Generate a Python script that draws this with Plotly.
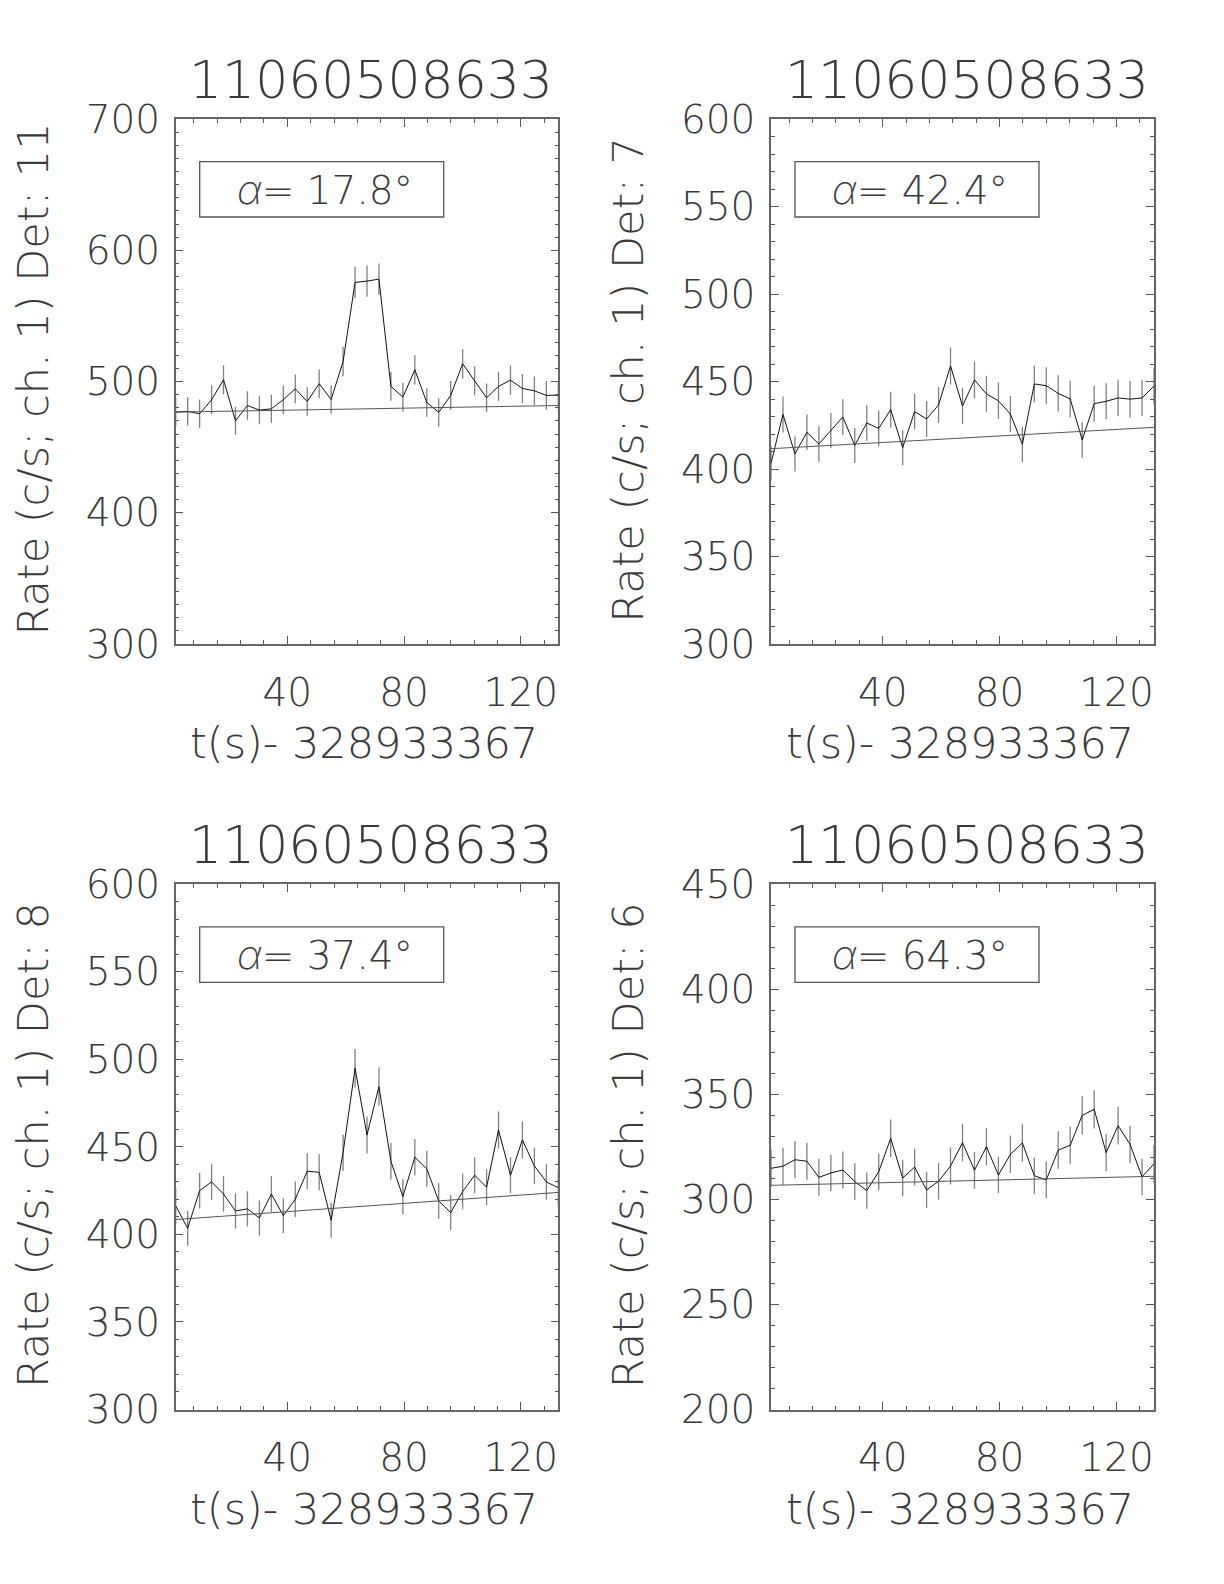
import plotly.graph_objects as go

# ---------------- data ----------------
t = [1.77, 5.87, 9.96, 14.06, 18.15, 22.25, 26.35, 30.44, 34.54, 38.63, 42.73,
     46.83, 50.92, 55.02, 59.11, 63.21, 67.31, 71.40, 75.50, 79.59, 83.69, 87.79,
     91.88, 95.98, 100.07, 104.17, 108.27, 112.36, 116.46, 120.55, 124.65,
     128.75, 132.84]

rate_det11 = [476.7, 477.2, 475.4, 486.1, 501.3, 470.1, 481.7, 478.2, 479.2, 486.1,
              494.4, 484.8, 498.3, 486.3, 515.2, 575.5, 576.5, 578.0, 496.3, 488.1,
              508.9, 484.0, 476.5, 489.4, 513.5, 500.5, 487.6, 496.3, 501.0, 494.7,
              492.9, 489.4, 489.6]
err_det11 = [10.8, 10.8, 10.8, 10.9, 11.1, 10.7, 10.8, 10.8, 10.8, 10.9, 11.0, 10.9,
             11.0, 10.9, 11.2, 11.9, 11.9, 11.9, 11.0, 10.9, 11.1, 10.9, 10.8, 10.9,
             11.2, 11.1, 10.9, 11.0, 11.1, 11.0, 11.0, 10.9, 10.9]
bg_det11 = [476.7, 481.7]

rate_det7 = [403.3, 431.2, 408.6, 421.0, 414.3, 421.9, 429.7, 413.5, 426.3, 423.2,
             433.9, 412.2, 432.8, 428.6, 436.6, 458.9, 436.0, 450.9, 442.9, 439.0,
             431.4, 414.1, 448.6, 447.6, 443.2, 440.0, 416.6, 437.3, 438.7, 440.6,
             439.9, 440.6, 447.4]
err_det7 = [9.9, 10.3, 10.0, 10.1, 10.1, 10.1, 10.2, 10.0, 10.2, 10.2, 10.3, 10.0,
            10.3, 10.2, 10.3, 10.6, 10.3, 10.5, 10.4, 10.4, 10.3, 10.1, 10.5, 10.5,
            10.4, 10.4, 10.1, 10.3, 10.3, 10.4, 10.4, 10.4, 10.5]
bg_det7 = [411.6, 423.8]

rate_det8 = [416.4, 403.5, 425.0, 430.0, 423.1, 413.4, 414.6, 409.4, 423.1, 410.7,
             420.1, 436.1, 435.5, 408.1, 446.7, 494.9, 456.8, 484.4, 441.8, 421.6,
             444.1, 437.4, 419.1, 412.5, 424.5, 433.8, 427.0, 459.7, 433.8, 454.0,
             439.1, 430.0, 426.7]
err_det8 = [10.1, 9.9, 10.2, 10.2, 10.2, 10.0, 10.1, 10.0, 10.2, 10.0, 10.1, 10.3,
            10.3, 10.0, 10.4, 11.0, 10.6, 10.9, 10.4, 10.1, 10.4, 10.3, 10.1, 10.0,
            10.2, 10.3, 10.2, 10.6, 10.3, 10.5, 10.4, 10.2, 10.2]
bg_det8 = [408.5, 424.0]

rate_det6 = [314.8, 315.8, 318.9, 318.2, 310.5, 312.6, 314.0, 308.5, 304.2, 313.2,
             329.1, 310.2, 315.4, 304.5, 308.6, 315.9, 327.0, 313.9, 325.1, 311.6,
             321.5, 326.9, 311.3, 309.3, 323.5, 325.8, 340.0, 342.9, 322.3, 335.1,
             326.2, 310.7, 317.0]
err_det6 = [8.8, 8.8, 8.8, 8.8, 8.7, 8.7, 8.8, 8.7, 8.6, 8.7, 9.0, 8.7, 8.8, 8.6,
            8.7, 8.8, 8.9, 8.8, 8.9, 8.7, 8.9, 8.9, 8.7, 8.7, 8.9, 8.9, 9.1, 9.1,
            8.9, 9.0, 8.9, 8.7, 8.8]
bg_det6 = [306.7, 311.0]

titles = ["11060508633", "11060508633", "11060508633", "11060508633"]
detectors = ["11", "7", "8", "6"]
alphas = ["17.8", "42.4", "37.4", "64.3"]
y_ranges = [[300, 700], [300, 600], [300, 600], [200, 450]]
y_dticks = [100, 50, 50, 50]
x_title = "t(s)- 328933367"

rates = [rate_det11, rate_det7, rate_det8, rate_det6]
errs = [err_det11, err_det7, err_det8, err_det6]
bgs = [bg_det11, bg_det7, bg_det8, bg_det6]

# ---------------- layout geometry ----------------
# page pixel coordinates of the reference; the figure div sits 8px in (body margin)
OFF = 8
W, H = 1224 - 2 * OFF, 1584 - 2 * OFF
FONT = "DejaVu Sans"
WGT = 200
TXT = "#3a3a3a"
panels_px = [  # left, right, top, bottom (page px)
    (175.7, 558.3, 119.0, 644.0),
    (771.0, 1154.0, 119.0, 644.0),
    (175.7, 558.3, 884.3, 1409.5),
    (771.0, 1154.0, 884.3, 1409.5),
]


def px(xp):
    return (xp - OFF) / W


def py(yp):
    return 1 - (yp - OFF) / H


fig = go.Figure()
layout = dict(
    template="none",
    width=W, height=H, margin=dict(l=0, r=0, t=0, b=0, autoexpand=False),
    paper_bgcolor="white", plot_bgcolor="white", showlegend=False,
    font=dict(family=FONT, size=38, color=TXT, weight=WGT),
)
annotations = []
shapes = []

for k in range(4):
    l, r, tp, bt = panels_px[k]
    xa = "x" if k == 0 else f"x{k+1}"
    ya = "y" if k == 0 else f"y{k+1}"
    xkey = "xaxis" if k == 0 else f"xaxis{k+1}"
    ykey = "yaxis" if k == 0 else f"yaxis{k+1}"

    fig.add_trace(go.Scatter(
        x=t, y=rates[k], mode="lines", xaxis=xa, yaxis=ya,
        line=dict(color="#111111", width=1),
        error_y=dict(type="data", array=errs[k], visible=True,
                     color="#808080", thickness=1.3, width=0),
    ))
    fig.add_trace(go.Scatter(
        x=[t[0], t[-1]], y=bgs[k], mode="lines", xaxis=xa, yaxis=ya,
        line=dict(color="#555555", width=1),
    ))

    layout[xkey] = dict(
        domain=[px(l), px(r)], anchor=ya, range=[t[0], t[-1]],
        tickmode="array", tickvals=[40, 80, 120], ticktext=["40", "80", "120"],
        ticks="inside", ticklen=8, tickwidth=1, tickcolor="#555",
        minor=dict(tickmode="linear", tick0=0, dtick=8, ticks="inside",
                   ticklen=4, tickwidth=1, tickcolor="#555"),
        showline=True, linecolor="#666", linewidth=1.5, mirror="allticks",
        showgrid=False, zeroline=False, automargin=False,
        tickfont=dict(family=FONT, size=39, color=TXT, weight=WGT),
        ticklabelstandoff=13,
    )
    layout[ykey] = dict(
        domain=[py(bt), py(tp)], anchor=xa, range=y_ranges[k],
        tickmode="linear", tick0=0, dtick=y_dticks[k],
        ticks="inside", ticklen=8, tickwidth=1, tickcolor="#555",
        minor=dict(tickmode="linear", tick0=0, dtick=10, ticks="inside",
                   ticklen=4, tickwidth=1, tickcolor="#555"),
        showline=True, linecolor="#666", linewidth=1.5, mirror="allticks",
        showgrid=False, zeroline=False, automargin=False,
        tickfont=dict(family=FONT, size=39, color=TXT, weight=WGT),
        ticklabelstandoff=6,
    )

    cx = (l + r) / 2
    # panel title
    annotations.append(dict(
        text=titles[k], xref="paper", yref="paper", x=px(cx + 4),
        y=py(tp - 39), xanchor="center", yanchor="middle",
        showarrow=False, font=dict(family=FONT, size=52, color=TXT, weight=WGT),
    ))
    # x-axis title
    annotations.append(dict(
        text=x_title, xref="paper", yref="paper", x=px(cx - 3),
        y=py(bt + 99), xanchor="center", yanchor="middle",
        showarrow=False, font=dict(family=FONT, size=43, color=TXT, weight=WGT),
    ))
    # y-axis title
    annotations.append(dict(
        text=f"Rate (c/s; ch. 1) Det: {detectors[k]}", xref="paper", yref="paper",
        x=px(l - 142.7), y=py((tp + bt) / 2 - 2), xanchor="center",
        yanchor="middle", textangle=-90, showarrow=False,
        font=dict(family=FONT, size=43, color=TXT, weight=WGT),
    ))
    # alpha box
    bx0, bx1 = l + 24, l + 268
    by0, by1 = tp + 42.6, tp + 98
    shapes.append(dict(
        type="rect", xref="paper", yref="paper",
        x0=px(bx0), x1=px(bx1), y0=py(by1), y1=py(by0),
        line=dict(color="#555", width=1.3), fillcolor="rgba(0,0,0,0)",
    ))
    annotations.append(dict(
        text=(f'<span style="font-family:Inter;font-style:italic;font-weight:200">α</span>'
              f"= {alphas[k]}°"),
        xref="paper", yref="paper",
        x=px((bx0 + bx1) / 2 + 3), y=py((by0 + by1) / 2),
        xanchor="center", yanchor="middle", showarrow=False,
        font=dict(family=FONT, size=39, color=TXT, weight=WGT),
    ))

layout["annotations"] = annotations
layout["shapes"] = shapes
fig.update_layout(**layout)
fig.write_html("out.html")
